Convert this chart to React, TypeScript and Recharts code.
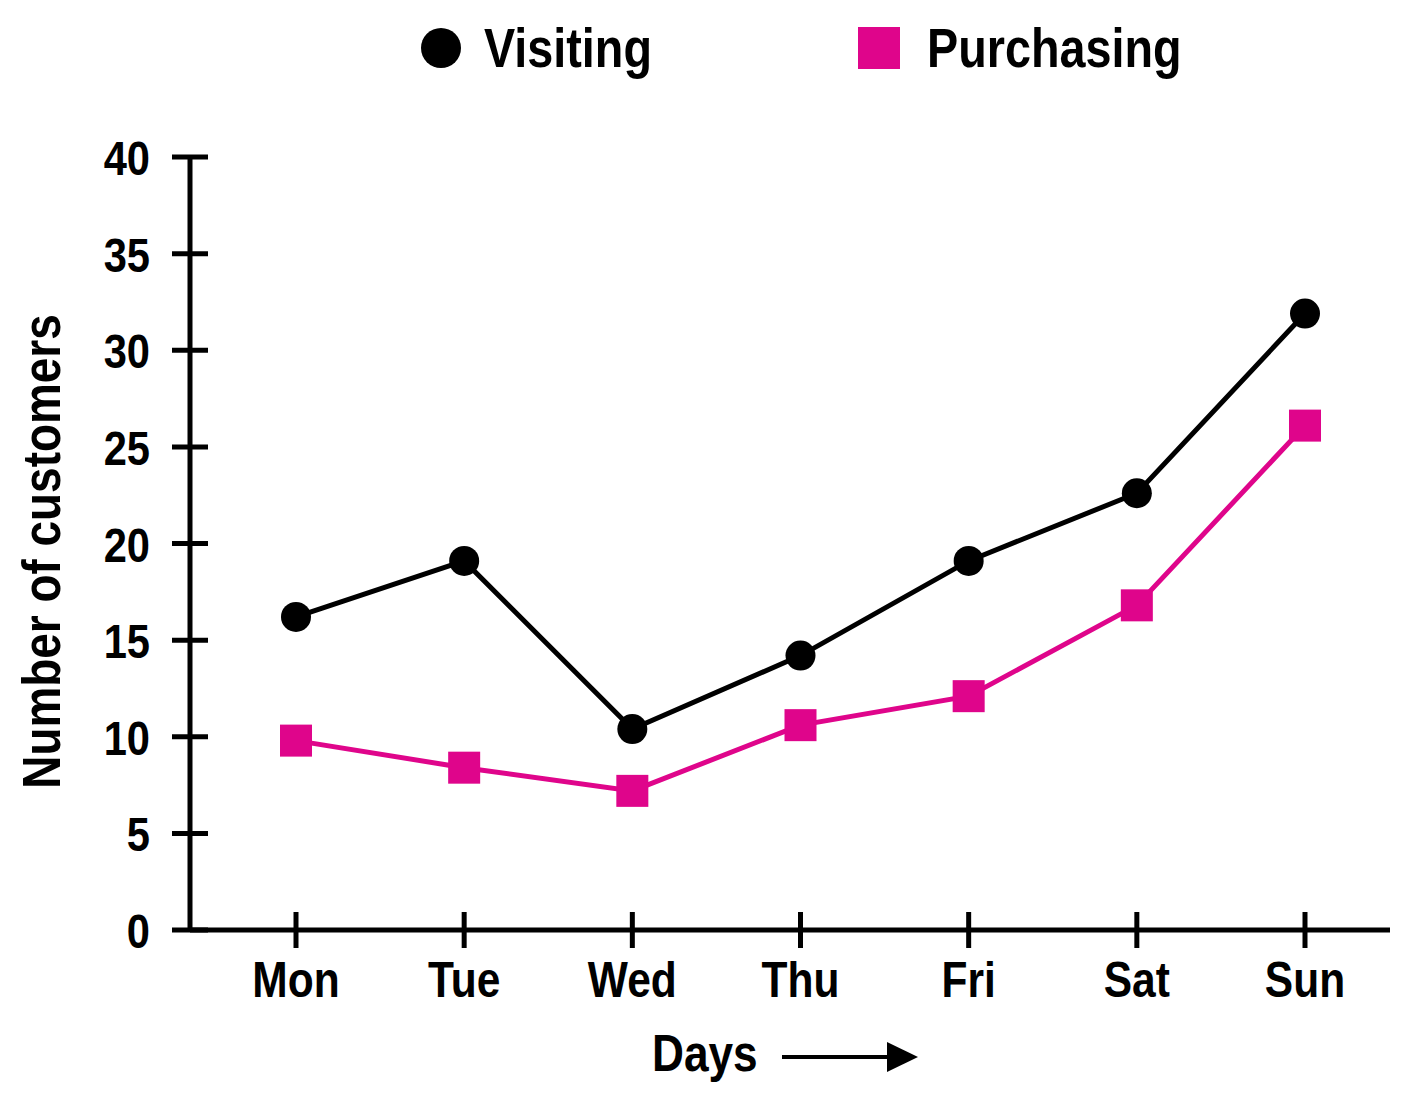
import React from 'react';
import { LineChart, Line, XAxis, YAxis, Legend, Label } from 'recharts';

const days = ['Mon', 'Tue', 'Wed', 'Thu', 'Fri', 'Sat', 'Sun'];
const visiting = [16.2, 19.1, 10.4, 14.2, 19.1, 22.6, 31.9];
const purchasing = [9.8, 8.4, 7.2, 10.6, 12.1, 16.8, 26.1];
const yTicks = [0, 5, 10, 15, 20, 25, 30, 35, 40];

const chartData = days.map((day, i) => ({
  day,
  visiting: visiting[i],
  purchasing: purchasing[i],
}));

const FONT = '"Liberation Sans", Arial, sans-serif';
const MAGENTA = '#DF058B';
const SQUEEZE = 0.85; // no condensed font installed, so squeeze the bold sans horizontally

// bold text, narrowed with a transform
const NarrowText = ({ x, y, size, anchor = 'start', rotate = false, children }: any) => (
  <text
    transform={`translate(${x},${y})${rotate ? ' rotate(-90)' : ''} scale(${SQUEEZE},1)`}
    textAnchor={anchor}
    fontFamily={FONT}
    fontWeight="bold"
    fontSize={size}
    fill="#000"
  >
    {children}
  </text>
);

// ticks cross the axis line, so draw them ourselves
const YTick = (props: any) => {
  const { x, y, payload } = props;
  return (
    <g>
      <line x1={x - 18} x2={x + 18} y1={y} y2={y} stroke="#000" strokeWidth={5} />
      <NarrowText x={x - 40} y={y + 18} size={49} anchor="end">
        {payload.value}
      </NarrowText>
    </g>
  );
};

const XTick = (props: any) => {
  const { x, y, payload } = props;
  return (
    <g>
      <line x1={x} x2={x} y1={y - 18} y2={y + 18} stroke="#000" strokeWidth={5} />
      <NarrowText x={x} y={y + 67} size={50} anchor="middle">
        {payload.value}
      </NarrowText>
    </g>
  );
};

const SquareDot = (props: any) => {
  const { cx, cy, index } = props;
  return <rect key={`sq-${index}`} x={cx - 16} y={cy - 16} width={32} height={32} fill={MAGENTA} />;
};

const DaysLabel = (props: any) => {
  const { viewBox } = props;
  const cx = viewBox.x + viewBox.width / 2;
  const ty = viewBox.y + 141;
  return (
    <g>
      <NarrowText x={cx - 138} y={ty} size={52}>
        Days
      </NarrowText>
      <line x1={cx - 8} x2={cx + 100} y1={ty - 14} y2={ty - 14} stroke="#000" strokeWidth={4} />
      <path d={`M${cx + 97},${ty - 29} L${cx + 128},${ty - 14} L${cx + 97},${ty + 1}Z`} fill="#000" />
    </g>
  );
};

const CustomersLabel = (props: any) => {
  const { viewBox } = props;
  return (
    <NarrowText x={viewBox.x + 60} y={viewBox.y + viewBox.height / 2 + 8} size={54} anchor="middle" rotate>
      Number of customers
    </NarrowText>
  );
};

const LegendContent = () => (
  <svg width={1425} height={100} style={{ display: 'block' }}>
    <circle cx={441} cy={48} r={20} fill="#000" />
    <rect x={858} y={27} width={42} height={42} fill={MAGENTA} />
    <NarrowText x={484} y={67} size={55}>
      Visiting
    </NarrowText>
    <NarrowText x={927} y={67} size={55}>
      Purchasing
    </NarrowText>
  </svg>
);

export default function App() {
  return (
    <div style={{ position: 'absolute', left: 0, top: 0, background: '#fff' }}>
      <LineChart
        width={1425}
        height={1104}
        data={chartData}
        margin={{ top: 57, right: 35, left: 0, bottom: 0 }}
      >
        <Legend verticalAlign="top" height={100} content={<LegendContent />} wrapperStyle={{ top: 0, left: 0 }} />
        <XAxis
          dataKey="day"
          height={174}
          padding={{ left: 106, right: 85 }}
          axisLine={{ stroke: '#000', strokeWidth: 5 }}
          tickLine={false}
          tickSize={0}
          tickMargin={0}
          interval={0}
          tick={<XTick />}
        >
          <Label content={<DaysLabel />} />
        </XAxis>
        <YAxis
          width={190}
          domain={[0, 40]}
          ticks={yTicks}
          axisLine={{ stroke: '#000', strokeWidth: 5 }}
          tickLine={false}
          tickSize={0}
          tickMargin={0}
          interval={0}
          tick={<YTick />}
        >
          <Label content={<CustomersLabel />} />
        </YAxis>
        <Line
          dataKey="visiting"
          stroke="#000"
          strokeWidth={5}
          dot={{ r: 15, fill: '#000', stroke: 'none' }}
          isAnimationActive={false}
        />
        <Line
          dataKey="purchasing"
          stroke={MAGENTA}
          strokeWidth={5}
          dot={<SquareDot />}
          isAnimationActive={false}
        />
      </LineChart>
    </div>
  );
}
